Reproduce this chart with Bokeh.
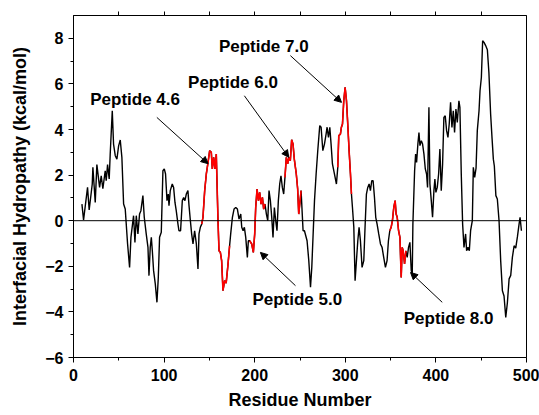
import numpy as np
from bokeh.plotting import figure
from bokeh.models import (Span, Label, Arrow, NormalHead, LinearAxis, FixedTicker)
from bokeh.embed import file_html
from bokeh.resources import INLINE

# ---------------- data ----------------
residue = [
    9.3, 11.1, 15.5, 17.3, 20.7, 21.4, 24.0, 25.8, 28.8, 30.6, 32.4, 35.0, 36.1, 37.6, 39.4, 40.5,
    42.8, 44.2, 46.1, 47.9, 49.8, 51.6, 53.4, 55.3, 57.1, 59.7, 61.9, 63.4, 66.3, 67.8, 69.3, 71.1,
    72.9, 74.4, 76.6, 78.1, 80.3, 82.2, 83.3, 84.7, 85.9, 87.0, 88.4, 90.3, 92.1, 93.6, 95.0, 96.9,
    98.7, 100.2, 101.6, 103.2, 104.6, 105.4, 106.8, 109.0, 110.5, 112.0, 113.4, 115.3, 116.4, 118.2,
    120.1, 121.6, 123.0, 124.5, 126.3, 127.5, 129.0, 130.4, 131.9, 133.7, 135.6, 137.4, 138.5, 140.0,
    141.5, 142.9, 144.8, 146.6, 148.5, 150.3, 152.1, 153.2, 154.7, 156.2, 157.6, 159.5, 160.6, 162.1,
    163.5, 165.0, 166.8, 168.5, 170.4, 172.3, 173.5, 175.4, 177.2, 179.1, 180.9, 182.7, 184.6, 185.7,
    187.2, 188.6, 190.1, 191.9, 193.0, 194.5, 196.7, 198.5, 200.0, 201.1, 202.6, 204.1, 205.5, 207.0,
    208.5, 209.9, 211.4, 212.9, 214.4, 215.8, 217.3, 218.8, 220.2, 221.7, 223.2, 224.6, 226.1, 227.6,
    229.0, 230.5, 232.0, 233.4, 234.9, 236.4, 237.8, 239.3, 240.8, 242.3, 243.7, 245.9, 247.4, 248.6,
    249.7, 251.2, 253.4, 254.9, 257.8, 259.7, 261.6, 263.0, 264.5, 266.0, 267.8, 269.6, 271.8, 273.3,
    275.2, 277.0, 278.8, 279.9, 281.4, 282.9, 284.3, 285.8, 288.0, 290.2, 291.7, 292.8, 294.6, 295.7,
    296.9, 298.3, 299.8, 301.3, 302.7, 304.2, 305.7, 306.8, 307.9, 309.4, 310.8, 312.3, 313.8, 315.2,
    316.7, 318.5, 320.4, 321.8, 323.3, 324.8, 326.3, 327.7, 329.2, 330.7, 332.2, 333.6, 335.1, 336.9,
    338.8, 340.6, 342.4, 344.3, 346.1, 347.6, 349.1, 350.6, 352.0, 353.5, 355.0, 356.1, 357.3, 358.8,
    360.3, 361.7, 362.8, 363.9, 365.4, 366.9, 368.3, 369.8, 371.3, 372.8, 373.9, 374.6, 376.5, 377.6,
    378.7, 380.1, 381.3, 382.4, 383.9, 385.3, 386.8, 388.3, 389.7, 390.8, 392.3, 393.4, 394.9, 396.3,
    397.8, 398.9, 400.0, 401.5, 403.0, 404.4, 405.9, 407.4, 408.8, 410.3, 411.8, 413.3, 414.7, 416.2,
    417.7, 419.2, 420.6, 422.1, 423.6, 425.4, 426.5, 428.0, 429.5, 431.0, 432.8, 433.9, 435.4, 436.9,
    438.3, 440.2, 441.3, 442.8, 444.3, 445.7, 447.6, 448.7, 450.2, 451.6, 453.1, 454.9, 456.8, 458.5,
    460.4, 462.0, 463.4, 464.5, 466.2, 467.8, 469.7, 471.5, 473.4, 475.2, 477.1, 478.9, 480.8, 482.6,
    484.4, 486.3, 488.1, 490.0, 491.8, 492.9, 494.4,
]
hydropathy = [
    0.73, 0.03, 1.46, 0.47, 1.61, 2.34, 0.80, 2.46, 1.46, 1.97, 1.40, 2.19, 1.75, 2.46, 1.83, 2.90,
    4.82, 3.36, 2.85, 2.70, 3.28, 3.54, 2.78, 0.73, 0.51, -1.02, -2.05, -0.73, 0.22, -0.95, 0.22, -0.58,
    0.29, 0.44, 1.10, 0.15, -0.59, -1.17, -2.41, -1.17, -0.73, -1.32, -2.19, -2.78, -3.58, -2.49, -0.73, -0.51,
    2.19, 2.27, 2.05, 0.88, 1.17, 0.66, 1.32, 1.61, 1.46, 0.80, 0.44, -0.15, -0.44, -0.44,
    0.88, 1.02, 0.88, 1.17, 1.32, 0.66, 0.00, -0.58, -1.02, -0.44, -1.02, -2.12, -0.58, -0.29,
    -0.15, 0.15, 1.32, 2.05, 2.56, 3.07, 3.00, 2.27, 2.78, 2.27, 2.92, 0.00, -1.32, -1.39,
    -1.75, -3.07, -2.63, -2.74, -1.97, -1.10, -0.58, 0.15, 0.51, 0.58, 0.51, 0.07, 0.29, -0.29,
    -0.44, -0.29, -0.73, -1.61, -0.88, -0.88, -1.02, -1.39, -0.58, 0.58, 1.39, 0.88, 1.24, 0.73,
    1.02, 0.51, 0.73, 0.29, 0.00, 1.32, 0.88, 0.15, -0.73, 0.58, 0.00, -0.44, 0.88, 1.61,
    1.97, 1.46, 1.17, 1.90, 2.78, 2.49, 2.78, 2.63, 3.55, 3.36, 2.70, 2.05, 1.40, 0.29,
    0.73, 1.32, -0.44, -0.44, -0.88, -1.75, -2.92, -2.05, -0.58, 0.88, 2.05, 3.07, 4.17, 4.10,
    3.07, 3.36, 3.80, 4.10, 3.65, 4.10, 3.36, 2.49, 2.05, 1.61, 2.34, 3.73, 3.80, 4.10,
    4.24, 5.26, 5.85, 5.26, 4.24, 3.07, 2.05, 1.17, 0.58, -0.29, -2.63, -1.75, -0.88, -0.29,
    -0.88, -2.05, -1.75, -0.29, 1.17, 1.46, 1.61, 1.32, 1.75, 1.75, 1.02, 0.15, -0.15, -0.58,
    -1.02, -1.17, -1.61, -2.05, -1.75, -0.88, -0.44, -0.29, 0.00, 0.58, 0.88, 0.29, 0.15, -0.44,
    -0.73, -2.49, -1.17, -1.32, -1.90, -1.32, -1.61, -1.17, -0.95, -2.19, -2.34, -0.15, 2.19, 2.92,
    2.56, 3.36, 3.87, 3.29, 3.51, 3.36, 2.92, 2.27, 2.05, 1.46, 4.97, 1.61, 0.88, 0.15,
    1.32, 1.83, 1.24, 1.46, 2.05, 3.14, 1.32, 2.49, 4.53, 4.60, 3.95, 3.65, 4.24, 5.19,
    4.09, 4.82, 3.87, 4.90, 4.31, 5.26, 4.97, 2.05, -0.15, -1.17, -0.58, -1.32, -1.17, -1.32,
    -0.44, 0.00, 2.34, 1.90, 2.30, 3.95, 4.82, 5.70, 6.29, 7.89, 7.82, 7.68, 7.50, 6.50,
    4.68, 3.60, 2.70, 2.40, 1.10, 0.95, 0.00, -1.75, -3.07, -3.30, -4.24, -3.60, -2.55, -2.40,
    -1.61, -1.10, -1.20, -0.70, -0.15, 0.15, -0.44,
]
peptide_names = ["Peptide 4.6", "Peptide 5.0", "Peptide 6.0", "Peptide 7.0", "Peptide 8.0"]
peptide_start = [141.5, 194.5, 233.4, 291.7, 349.1]
peptide_end = [172.3, 211.4, 251.2, 306.8, 366.9]

x_ticks = [0, 100, 200, 300, 400, 500]
x_minor = [50, 150, 250, 350, 450]
y_ticks = [-6, -4, -2, 0, 2, 4, 6, 8]
y_minor = [-5, -3, -1, 1, 3, 5, 7]
top_ticks = [50, 100, 150, 200, 250, 300, 350, 400, 450]

FONT = "Liberation Sans"

p = figure(width=539, height=415, x_range=(0, 500), y_range=(-6, 9),
           output_backend="svg", toolbar_location=None,
           min_border_left=73, min_border_right=13, min_border_top=15, min_border_bottom=58)
p.xgrid.visible = False
p.ygrid.visible = False
p.background_fill_color = "white"
p.border_fill_color = "white"
p.outline_line_color = "black"
p.outline_line_width = 1

res = np.array(residue)
hyd = np.array(hydropathy)

p.add_layout(Span(location=0, dimension="width", line_color="black", line_width=1))
p.line(res, hyd, line_color="black", line_width=1.4)
for s, e in zip(peptide_start, peptide_end):
    m = (res >= s) & (res <= e)
    p.line(res[m], hyd[m], line_color="#ff0000", line_width=1.6)

# axes
for ax in (p.xaxis[0], p.yaxis[0]):
    ax.axis_line_color = "black"
    ax.axis_line_width = 1
    ax.major_tick_line_color = "black"
    ax.minor_tick_line_color = "black"
    ax.major_tick_in = 0
    ax.major_tick_out = 5
    ax.minor_tick_in = 0
    ax.minor_tick_out = 3
    ax.major_label_text_font = FONT
    ax.major_label_text_font_style = "bold"
    ax.major_label_text_font_size = "16px"
    ax.major_label_text_color = "black"
    ax.axis_label_text_font = FONT
    ax.axis_label_text_font_style = "bold"
    ax.axis_label_text_font_size = "18px"
    ax.axis_label_text_color = "black"

p.xaxis[0].ticker = FixedTicker(ticks=x_ticks, minor_ticks=x_minor)
p.yaxis[0].ticker = FixedTicker(ticks=y_ticks, minor_ticks=y_minor)
p.xaxis[0].axis_label = "Residue Number"
p.yaxis[0].axis_label = "Interfacial Hydropathy (kcal/mol)"
p.xaxis[0].major_label_standoff = 6
p.yaxis[0].major_label_standoff = 5
p.xaxis[0].axis_label_standoff = 6
p.yaxis[0].axis_label_standoff = 12

top = LinearAxis(ticker=FixedTicker(ticks=top_ticks))
top.major_label_text_color = None
top.major_label_text_font_size = "1px"
top.major_label_standoff = 0
top.major_tick_in = 0
top.major_tick_out = 4
top.minor_tick_line_color = None
top.axis_line_color = "black"
p.add_layout(top, "above")

# annotations
label_pos = [(68, 5.31), (247, -3.46), (176, 6.05), (210, 7.64), (414, -4.31)]
arrows = [((92, 4.53), (148.5, 2.5)), ((245, -2.85), (206.3, -1.39)),
          ((188.6, 5.48), (237.6, 2.78)), ((239.4, 7.24), (295.8, 5.19)),
          ((407, -3.58), (372, -2.27))]
for name, (lx, ly), ((x0, y0), (x1, y1)) in zip(peptide_names, label_pos, arrows):
    p.add_layout(Label(x=lx, y=ly, text=name, text_font=FONT, text_font_style="bold",
                       text_font_size="17px", text_align="center", text_baseline="middle",
                       text_color="black"))
    p.add_layout(Arrow(end=NormalHead(size=7, fill_color="black", line_color="black"),
                       x_start=x0, y_start=y0, x_end=x1, y_end=y1,
                       line_color="black", line_width=1))

open("out.html", "w").write(file_html(p, INLINE))
